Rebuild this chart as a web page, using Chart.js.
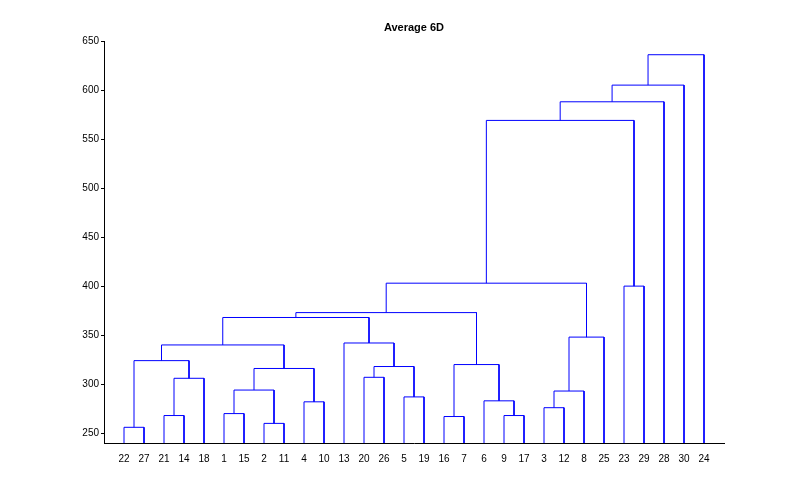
<!DOCTYPE html>
<html>
<head>
<meta charset="utf-8">
<script src="https://cdn.jsdelivr.net/npm/chart.js@4"></script>
<style>body{margin:0;background:#fff}#wrap{width:800px;height:500px}</style>
</head>
<body>
<div id="wrap"><canvas id="dendro"></canvas></div>
<script>
// leaf order along the x axis
const leafOrder = [22, 27, 21, 14, 18, 1, 15, 2, 11, 4, 10, 13, 20, 26, 5, 19, 16, 7, 6, 9, 17, 3, 12, 8, 25, 23, 29, 28, 30, 24];
// linkage: cluster 31.. formed from a, b at height
const linkA = [22, 2, 16, 21, 9, 1, 3, 4, 6, 5, 37, 36, 34, 20, 42, 44, 33, 31, 48, 13, 41, 49, 52, 23, 53, 55, 56, 57, 58];
const linkB = [27, 11, 7, 14, 17, 15, 12, 10, 35, 19, 8, 32, 18, 26, 38, 40, 39, 43, 45, 46, 25, 50, 47, 29, 51, 54, 28, 30, 24];
const linkH = [256, 260, 267, 268, 268, 270, 276, 282, 283, 287, 293, 294, 306, 307, 316, 318, 320, 324, 340, 342, 348, 368, 373, 400, 403, 569, 588, 605, 636];
const yTicks = [250, 300, 350, 400, 450, 500, 550, 600, 650];
const yFloor = 240;

const nodeX = {}, nodeY = {};
leafOrder.forEach((leaf, i) => { nodeX[leaf] = i + 1; nodeY[leaf] = yFloor; });
const pts = [];
linkA.forEach((a, i) => {
    const b = linkB[i], h = linkH[i], id = 31 + i;
    pts.push({x: nodeX[a], y: nodeY[a]}, {x: nodeX[a], y: h}, {x: nodeX[b], y: h}, {x: nodeX[b], y: nodeY[b]}, {x: NaN, y: null});
    nodeX[id] = (nodeX[a] + nodeX[b]) / 2;
    nodeY[id] = h;
});

const titlePlugin = {
    id: 'matTitle',
    afterDraw(chart) {
        const c = chart.ctx;
        c.save();
        c.font = 'bold 11px "Liberation Sans", sans-serif';
        c.fillStyle = '#000';
        c.textAlign = 'center';
        c.fillText('Average 6D', (chart.chartArea.left + chart.chartArea.right) / 2, 31);
        c.restore();
    }
};

new Chart(document.getElementById('dendro').getContext('2d'), {
    type: 'line',
    data: {datasets: [{data: pts, borderColor: '#0000ff', borderWidth: 1, pointRadius: 0, spanGaps: false, fill: false, tension: 0}]},
    plugins: [titlePlugin],
    options: {
        responsive: true,
        maintainAspectRatio: false,
        animation: false,
        layout: {padding: {top: 41, right: 76, left: 0, bottom: 0}},
        plugins: {legend: {display: false}, tooltip: {enabled: false}},
        scales: {
            x: {
                type: 'linear', min: 0, max: 31,
                afterBuildTicks(s) { s.ticks = leafOrder.map((l, i) => ({value: i + 1})); },
                afterFit(s) { s.height = 57; },
                ticks: {autoSkip: false, maxRotation: 0, padding: 2, color: '#000', font: {size: 10, family: '"Liberation Sans", sans-serif'}, callback: (v) => leafOrder[v - 1]},
                grid: {display: false},
                border: {color: '#000'}
            },
            y: {
                type: 'linear', min: yFloor, max: 650,
                afterBuildTicks(s) { s.ticks = yTicks.map(v => ({value: v})); },
                afterFit(s) { s.width = 104; },
                ticks: {color: '#000', font: {size: 10, family: '"Liberation Sans", sans-serif'}, padding: 2},
                grid: {drawOnChartArea: false, tickLength: 3, color: '#000'},
                border: {color: '#000'}
            }
        }
    }
});
</script>
</body>
</html>
